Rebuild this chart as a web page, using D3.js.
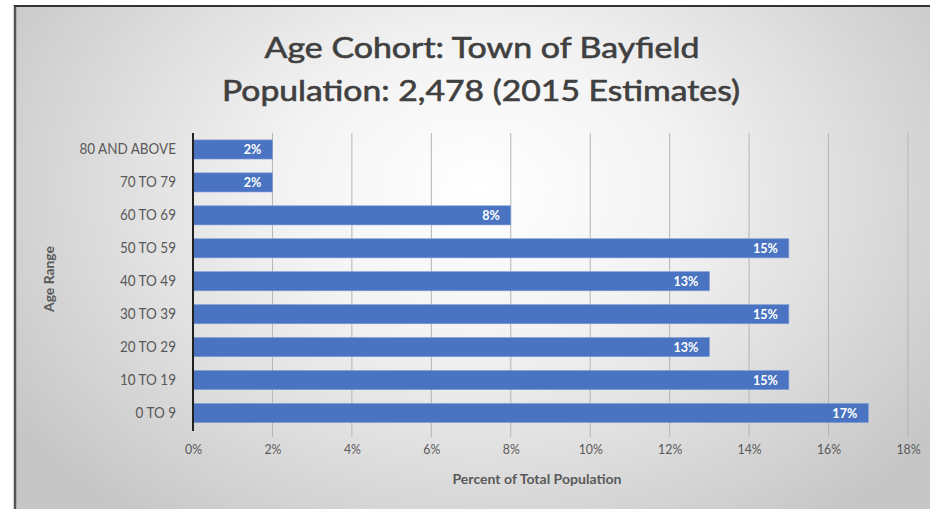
<!DOCTYPE html>
<html><head><meta charset="utf-8">
<script src="https://cdn.jsdelivr.net/npm/d3@7"></script>
<style>html,body{margin:0;padding:0;background:#fff;}svg{display:block;}</style>
</head><body>
<svg id="chart" width="930" height="509"></svg>
<script>
const categories = ["80 AND ABOVE","70 TO 79","60 TO 69","50 TO 59","40 TO 49","30 TO 39","20 TO 29","10 TO 19","0 TO 9"];
const values = [2, 2, 8, 15, 13, 15, 13, 15, 17];
const tickValues = [0, 2, 4, 6, 8, 10, 12, 14, 16, 18];
const titleLines = ["Age Cohort: Town of Bayfield", "Population: 2,478 (2015 Estimates)"];
const xTitle = "Percent of Total Population";
const yTitle = "Age Range";

(function(){
const svg = d3.select("#chart");
const font = "Lato, 'Open Sans', sans-serif";

// background
const defs = svg.append("defs");
const rg = defs.append("radialGradient").attr("id","bg")
  .attr("gradientUnits","userSpaceOnUse").attr("cx",480).attr("cy",190).attr("r",560)
  .attr("gradientTransform","translate(480,190) scale(1,0.75) translate(-480,-190)");
rg.append("stop").attr("offset","0").attr("stop-color","#ffffff");
rg.append("stop").attr("offset","0.35").attr("stop-color","#f3f3f3");
rg.append("stop").attr("offset","1").attr("stop-color","#c6c6c6");
svg.append("rect").attr("x",15).attr("y",6).attr("width",915).attr("height",503).attr("fill","url(#bg)");
svg.append("line").attr("x1",15).attr("x2",15).attr("y1",5).attr("y2",509).attr("stroke","#555").attr("stroke-width",2.5);
svg.append("line").attr("x1",14).attr("x2",930).attr("y1",6).attr("y2",6).attr("stroke","#333").attr("stroke-width",2);

const pLeft = 193, pRight = 908, pTop = 133, pBottom = 429.5;
const x = d3.scaleLinear().domain([0, 18]).range([pLeft, pRight]);
const y = d3.scaleBand().domain(categories).range([pTop, pBottom]).paddingInner(0.42).paddingOuter(0.21);

function squeeze(f) {
  return function(){ const w = this.getComputedTextLength(); this.setAttribute("textLength", w*f); this.setAttribute("lengthAdjust","spacingAndGlyphs"); };
}

// gridlines
svg.append("g").selectAll("line").data(tickValues.filter(d => d > 0)).join("line")
  .attr("x1", d => x(d)).attr("x2", d => x(d)).attr("y1", pTop).attr("y2", 437)
  .attr("stroke", "#b4b4b4").attr("stroke-width", 1);

// x axis labels
const xAxis = d3.axisBottom(x).tickValues(tickValues).tickFormat(d => d + "%").tickSize(0).tickPadding(0);
const gx = svg.append("g").attr("transform", `translate(0,${444})`).call(xAxis);
gx.select(".domain").remove();
gx.selectAll("text").attr("font-family", font).attr("font-size", 14).attr("fill", "#595959").attr("dy","0.71em")
  .each(squeeze(0.88));

// bars
svg.append("g").selectAll("rect").data(values).join("rect")
  .attr("x", x(0)).attr("y", (d,i) => y(categories[i]))
  .attr("width", d => x(d) - x(0)).attr("height", y.bandwidth())
  .attr("fill", "#4a74c2").attr("stroke","#7c9bd6").attr("stroke-width",0.6);

// bar labels
svg.append("g").selectAll("text").data(values).join("text")
  .attr("x", d => x(d) - 11).attr("y", (d,i) => y(categories[i]) + y.bandwidth()/2 + 5)
  .attr("text-anchor","end").attr("font-family", font).attr("font-size", 14).attr("font-weight", 700)
  .attr("fill","#ffffff").text(d => d + "%").each(squeeze(0.9));

// y axis
const yAxis = d3.axisLeft(y).tickSize(0).tickPadding(17);
const gy = svg.append("g").attr("transform", `translate(${pLeft},0)`).call(yAxis);
gy.select(".domain").remove();
gy.selectAll("text").attr("font-family", font).attr("font-size", 14.5).attr("fill", "#595959")
  .each(squeeze(0.93));
svg.append("line").attr("x1", pLeft).attr("x2", pLeft).attr("y1", pTop).attr("y2", 431)
  .attr("stroke", "#222").attr("stroke-width", 2);

// titles
function fitText(sel, target) {
  sel.attr("textLength", target).attr("lengthAdjust","spacingAndGlyphs");
}
const t1 = svg.append("text").attr("x", 482).attr("y", 58).attr("text-anchor","middle")
  .attr("font-family", font).attr("font-size", 28.5).attr("fill","#404040")
  .attr("stroke","#404040").attr("stroke-width",0.6).text(titleLines[0]);
fitText(t1, 435);
const t2 = svg.append("text").attr("x", 481).attr("y", 101).attr("text-anchor","middle")
  .attr("font-family", font).attr("font-size", 28.5).attr("fill","#404040")
  .attr("stroke","#404040").attr("stroke-width",0.6).text(titleLines[1]);
fitText(t2, 518);

const xt = svg.append("text").attr("x", 537).attr("y", 484).attr("text-anchor","middle")
  .attr("font-family", font).attr("font-size", 13).attr("font-weight", 700).attr("fill","#595959").text(xTitle);
fitText(xt, 169);
const yt = svg.append("text").attr("transform", "translate(54,279) rotate(-90)").attr("text-anchor","middle")
  .attr("font-family", font).attr("font-size", 13).attr("font-weight", 700).attr("fill","#595959").text(yTitle);
fitText(yt, 66);
})();
</script>
</body></html>
